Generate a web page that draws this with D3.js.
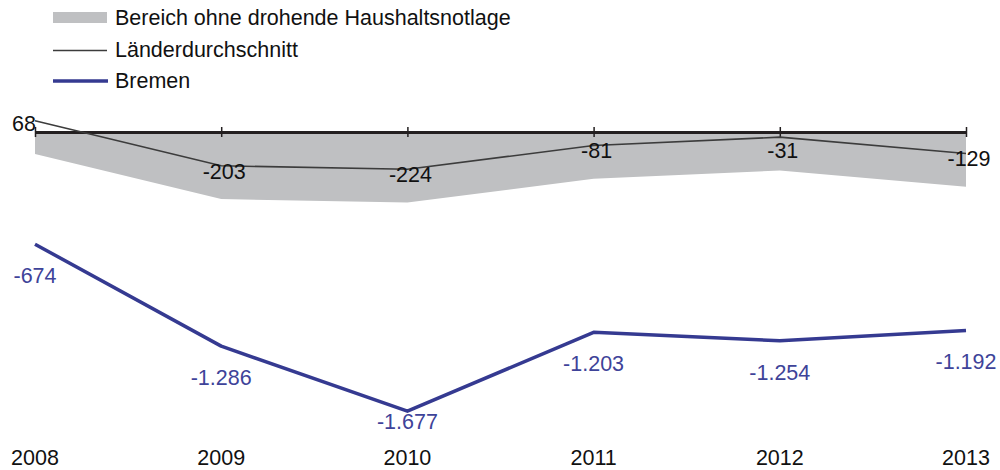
<!DOCTYPE html>
<html>
<head>
<meta charset="utf-8">
<script src="https://cdn.jsdelivr.net/npm/d3@7"></script>
<style>
  body { margin: 0; background: #fff; }
  svg text { font-family: "Liberation Sans", Arial, sans-serif; }
</style>
</head>
<body>
<svg id="chart"></svg>
<script>
// data
const years = ["2008", "2009", "2010", "2011", "2012", "2013"];
const laenderAvg = [68, -203, -224, -81, -31, -129];
const bremen = [-674, -1286, -1677, -1203, -1254, -1192];
// lower edge of the grey band (band runs from 0 down to this)
const bandLow = [-132, -403, -424, -281, -231, -329];

// german number format with plain hyphen as minus
const locale = d3.formatLocale({ decimal: ",", thousands: ".", grouping: [3], currency: ["", " €"], minus: "-" });
const fmt = locale.format(",");

const width = 1000, height = 470;
const fs = "21.5px";
const svg = d3.select("#chart").attr("width", width).attr("height", height);

const x = d3.scalePoint().domain(years).range([35, 966]);
const y = d3.scaleLinear().domain([0, -1800]).range([132, 431.7]);

const rows = years.map((yr, i) => ({ yr, avg: laenderAvg[i], hb: bremen[i], low: bandLow[i] }));

// grey band
const area = d3.area()
  .x(d => x(d.yr))
  .y0(y(0))
  .y1(d => y(d.low));
svg.append("path")
  .datum(rows)
  .attr("d", area)
  .attr("fill", "#bfc0c2");

// zero axis with ticks
const axis = d3.axisBottom(x).tickSize(0).tickFormat("");
const axisG = svg.append("g").attr("transform", `translate(0,${y(0)})`).call(axis);
axisG.select(".domain").attr("stroke", "#231f20").attr("stroke-width", 3);
axisG.selectAll(".tick line").remove();
axisG.selectAll(".tick").append("line")
  .attr("y1", -5).attr("y2", 5)
  .attr("stroke", "#231f20").attr("stroke-width", 1.5);

// Länderdurchschnitt
const lineAvg = d3.line().x(d => x(d.yr)).y(d => y(d.avg));
svg.append("path")
  .datum(rows)
  .attr("d", lineAvg)
  .attr("fill", "none")
  .attr("stroke", "#3c3c3c")
  .attr("stroke-width", 1.6);

svg.selectAll(".lbl-avg")
  .data(rows)
  .join("text")
  .attr("class", "lbl-avg")
  .attr("x", (d, i) => i === 0 ? x(d.yr) + 1 : x(d.yr) + 3)
  .attr("y", (d, i) => i === 0 ? y(d.avg) + 10 : Math.max(y(d.avg) + 13, 158))
  .attr("text-anchor", (d, i) => i === 0 ? "end" : "middle")
  .attr("font-size", fs)
  .attr("fill", "#111")
  .text(d => fmt(d.avg));

// Bremen
const lineHB = d3.line().x(d => x(d.yr)).y(d => y(d.hb));
svg.append("path")
  .datum(rows)
  .attr("d", lineHB)
  .attr("fill", "none")
  .attr("stroke", "#353a91")
  .attr("stroke-width", 3.5)
  .attr("stroke-linejoin", "round");

svg.selectAll(".lbl-hb")
  .data(rows)
  .join("text")
  .attr("class", "lbl-hb")
  .attr("x", d => x(d.yr))
  .attr("y", d => Math.min(y(d.hb) + 39, 429))
  .attr("text-anchor", "middle")
  .attr("font-size", fs)
  .attr("fill", "#3e4399")
  .text(d => fmt(d.hb));

// year labels
svg.selectAll(".lbl-year")
  .data(years)
  .join("text")
  .attr("class", "lbl-year")
  .attr("x", d => x(d))
  .attr("y", 465)
  .attr("text-anchor", "middle")
  .attr("font-size", fs)
  .attr("fill", "#111")
  .text(d => d);

// legend
const legend = svg.append("g").attr("transform", "translate(53,0)");
legend.append("rect")
  .attr("x", 0).attr("y", 12).attr("width", 54).attr("height", 11)
  .attr("fill", "#bfc0c2");
legend.append("text").attr("x", 62).attr("y", 25).attr("font-size", fs).attr("fill", "#111")
  .text("Bereich ohne drohende Haushaltsnotlage");
legend.append("line")
  .attr("x1", 0).attr("x2", 54).attr("y1", 50.5).attr("y2", 50.5)
  .attr("stroke", "#3c3c3c").attr("stroke-width", 1.6);
legend.append("text").attr("x", 62).attr("y", 57).attr("font-size", fs).attr("fill", "#111")
  .text("Länderdurchschnitt");
legend.append("line")
  .attr("x1", 0).attr("x2", 55).attr("y1", 81).attr("y2", 81)
  .attr("stroke", "#353a91").attr("stroke-width", 3.5);
legend.append("text").attr("x", 62).attr("y", 88).attr("font-size", fs).attr("fill", "#111")
  .text("Bremen");
</script>
</body>
</html>
